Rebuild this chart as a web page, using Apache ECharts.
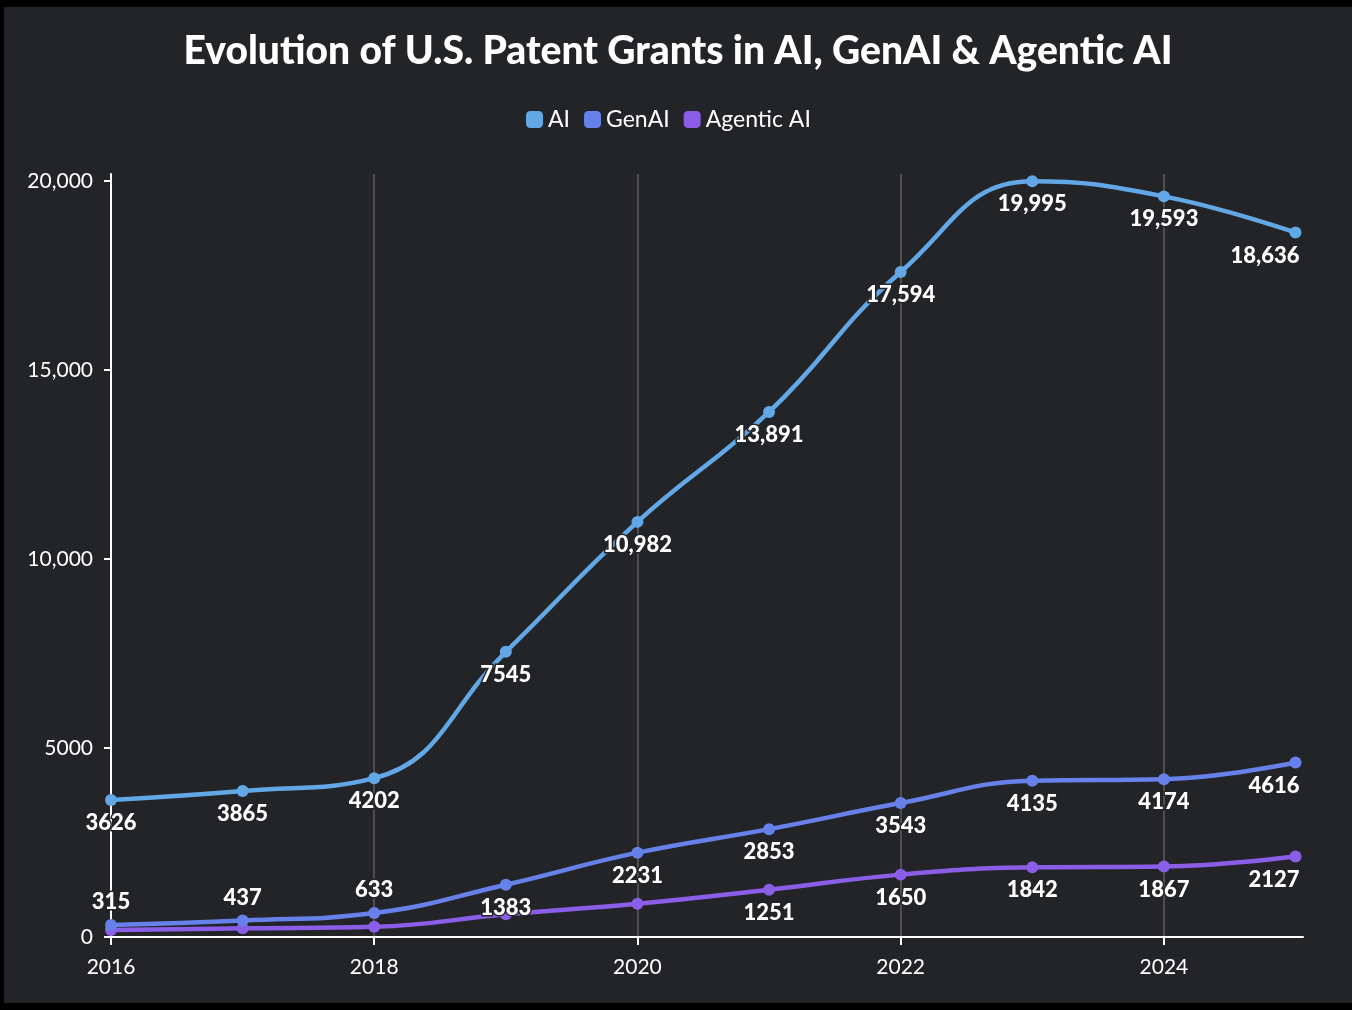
<!DOCTYPE html>
<html>
<head>
<meta charset="utf-8">
<script src="https://cdn.jsdelivr.net/npm/echarts@6/dist/echarts.min.js"></script>
<style>
html, body { margin: 0; padding: 0; background: #000; }
#patent-line { position: absolute; left: 4px; top: 7px; width: 1348px; height: 996px; background: #232428; }
</style>
</head>
<body>
<div id="patent-line"></div>
<script>
var years = [2016, 2017, 2018, 2019, 2020, 2021, 2022, 2023, 2024, 2025];
var aiGrants = [3626, 3865, 4202, 7545, 10982, 13891, 17594, 19995, 19593, 18636];
var genAiGrants = [315, 437, 633, 1383, 2231, 2853, 3543, 4135, 4174, 4616];
var agenticGrants = [185, 230, 270, 600, 880, 1251, 1650, 1842, 1867, 2127];
var yTicks = [0, 5000, 10000, 15000, 20000];
var xTicks = [2016, 2018, 2020, 2022, 2024];

// label tweaks per point
var genAiTop = [0, 1, 2];
var agenticHidden = [0, 1, 2, 3, 4];

function fmt(v) {
    return v >= 10000 ? v.toLocaleString('en-US') : String(v);
}

function build(values, opts) {
    return values.map(function (v, i) {
        var item = { value: [years[i], v] };
        var label = {};
        if (opts.top && opts.top.indexOf(i) >= 0) label.position = 'top';
        if (opts.hide && opts.hide.indexOf(i) >= 0) label.show = false;
        if (i === values.length - 1) {
            label.align = 'right';
            label.offset = [4, 0];
        }
        item.label = label;
        return item;
    });
}

(function(){
    var myChart = echarts.init(document.getElementById("patent-line"));

    var lineLabel = {
        show: true,
        position: 'bottom',
        distance: 6,
        color: '#fff',
        fontFamily: 'Lato',
        fontWeight: 900,
        fontSize: 22,
        textBorderColor: '#232428',
        textBorderWidth: 3,
        formatter: function (p) { return fmt(p.value[1]); }
    };

    function line(name, color, data, z) {
        return {
            name: name,
            type: 'line',
            smooth: 0.45,
            symbol: 'circle',
            symbolSize: 12,
            z: z,
            lineStyle: { width: 4.5, color: color },
            itemStyle: { color: color },
            label: lineLabel,
            data: data
        };
    }

    option = {
        backgroundColor: '#232428',
        color: ['#63a8e6', '#6781ea', '#8b5ee8'],
        textStyle: { fontFamily: 'Lato' },
        title: {
            text: 'Evolution of U.S. Patent Grants in AI, GenAI & Agentic AI',
            left: 'center',
            top: 20,
            textStyle: { color: '#fff', fontSize: 39, fontWeight: 900, fontFamily: 'Lato' }
        },
        legend: {
            top: 96,
            left: 517,
            icon: 'roundRect',
            itemWidth: 17,
            itemHeight: 17,
            itemGap: 14,
            textStyle: { color: '#fff', fontSize: 23, fontFamily: 'Lato' },
            data: ['AI', 'GenAI', 'Agentic AI']
        },
        grid: {
            left: 107,
            right: 49,
            top: 167,
            bottom: 66
        },
        xAxis: {
            type: 'value',
            min: 2016,
            max: 2025.057,
            axisLine: { lineStyle: { color: '#fff', width: 2 } },
            axisTick: { show: true, length: 8, lineStyle: { color: '#fff', width: 2 }, customValues: xTicks },
            axisLabel: {
                color: '#fff', fontSize: 21, margin: 20,
                customValues: xTicks,
                formatter: function (v) { return String(v); }
            },
            splitLine: { show: true, lineStyle: { color: '#4f4f52', width: 2 } }
        },
        yAxis: {
            type: 'value',
            min: 0,
            max: 20185,
            axisLine: { show: true, lineStyle: { color: '#fff', width: 2 } },
            axisTick: { show: true, length: 7, lineStyle: { color: '#fff', width: 2 }, customValues: yTicks },
            axisLabel: {
                color: '#fff', fontSize: 21, margin: 18,
                customValues: yTicks,
                formatter: fmt
            },
            splitLine: { show: false }
        },
        series: [
            line('AI', '#63a8e6', build(aiGrants, {}), 3),
            line('GenAI', '#6781ea', build(genAiGrants, { top: genAiTop }), 2),
            line('Agentic AI', '#8b5ee8', build(agenticGrants, { hide: agenticHidden }), 1)
        ]
    };
    myChart.setOption(option);
})();
</script>
</body>
</html>
